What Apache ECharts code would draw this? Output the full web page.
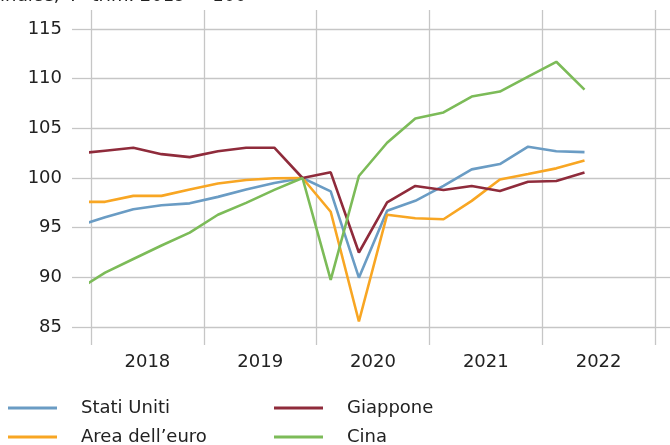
<!DOCTYPE html>
<html>
<head>
<meta charset="utf-8">
<script src="https://cdn.jsdelivr.net/npm/echarts@6/dist/echarts.min.js"></script>
<style>
  html, body { margin: 0; padding: 0; background: #fff; }
  #chart { width: 670px; height: 445px; }
</style>
</head>
<body>
<div id="chart"></div>
<script>
// trimestri (il primo è tagliato dal bordo sinistro del grafico)
var quarters = ['2017T4',
    '2018T1', '2018T2', '2018T3', '2018T4',
    '2019T1', '2019T2', '2019T3', '2019T4',
    '2020T1', '2020T2', '2020T3', '2020T4',
    '2021T1', '2021T2', '2021T3', '2021T4',
    '2022T1', '2022T2'];
var years = ['2018', '2019', '2020', '2021', '2022'];
var yTicks = [85, 90, 95, 100, 105, 110, 115];

var statiUniti = [95.15, 96.05, 96.85, 97.25, 97.45, 98.1, 98.85, 99.5, 100,
    98.65, 89.97, 96.7, 97.7, 99.2, 100.87, 101.4, 103.15, 102.7, 102.6];
var giappone = [102.45, 102.75, 103.05, 102.4, 102.1, 102.7, 103.05, 103.05, 100,
    100.57, 92.5, 97.55, 99.2, 98.8, 99.2, 98.7, 99.63, 99.7, 100.55];
var areaEuro = [97.6, 97.6, 98.2, 98.2, 98.85, 99.45, 99.8, 99.97, 100,
    96.6, 85.55, 96.3, 95.95, 95.85, 97.7, 99.85, 100.4, 100.97, 101.75];
var cina = [88.7, 90.47, 91.85, 93.2, 94.5, 96.3, 97.5, 98.8, 100,
    89.74, 100.2, 103.55, 106.0, 106.6, 108.2, 108.7, 110.2, 111.7, 108.9];

var FONT = 'DejaVu Sans';
var GRIDC = '#c6c6c6';

// posizione del trimestre: centro del trimestre sull'asse degli anni
function qx(q) {
    var y = parseInt(q.slice(0, 4), 10);
    var t = parseInt(q.slice(5), 10);
    return y + (t - 0.5) / 4;
}
function pairs(arr) {
    return arr.map(function (v, i) { return [qx(quarters[i]), v]; });
}

var myChart = echarts.init(document.getElementById('chart'), null, { renderer: 'canvas' });

function lineSeries(name, data, color) {
    return {
        name: name,
        type: 'line',
        xAxisIndex: 0,
        yAxisIndex: 0,
        data: pairs(data),
        showSymbol: false,
        symbol: 'none',
        clip: true,
        lineStyle: { color: color, width: 2.6 },
        itemStyle: { color: color },
        emphasis: { disabled: true }
    };
}

function legendBox(names, left) {
    return {
        data: names,
        orient: 'vertical', left: left, top: 398, height: 60, padding: 0,
        icon: 'rect', itemWidth: 49, itemHeight: 3, itemGap: 9,
        selectedMode: false,
        textStyle: { fontFamily: FONT, fontSize: 18, color: '#222', lineHeight: 20, padding: [0, 0, 0, 19] }
    };
}

var option = {
    animation: false,
    backgroundColor: '#fff',
    textStyle: { fontFamily: FONT },
    title: {
        text: 'indice, 4° trim. 2019 = 100',
        left: 0,
        top: -18,
        padding: [5, 5, 5, 0],
        textStyle: { fontFamily: FONT, fontSize: 18, fontWeight: 'normal', color: '#222' }
    },
    grid: { left: 91, right: 15, top: 29, bottom: 118, containLabel: false },
    xAxis: [
        {
            type: 'value', min: 2018, max: 2023, interval: 1, position: 'bottom',
            axisLine: { show: false },
            axisTick: { show: true, length: 18, lineStyle: { color: GRIDC, width: 1.3 } },
            axisLabel: { show: false },
            splitLine: { show: true, lineStyle: { color: GRIDC, width: 1.3 } }
        },
        {
            type: 'value', min: 2018, max: 2023, interval: 1, position: 'top',
            axisLine: { show: false },
            axisTick: { show: true, length: 19, lineStyle: { color: GRIDC, width: 1.3 } },
            axisLabel: { show: false },
            splitLine: { show: false }
        },
        {
            type: 'category', data: years, position: 'bottom', boundaryGap: true,
            axisLine: { show: false },
            axisTick: { show: false },
            splitLine: { show: false },
            axisLabel: { margin: 26, fontFamily: FONT, fontSize: 18, color: '#222' }
        }
    ],
    yAxis: [
        {
            type: 'value', min: yTicks[0], max: yTicks[yTicks.length - 1], interval: 5,
            axisLine: { show: false },
            axisTick: { show: true, length: 19, lineStyle: { color: GRIDC, width: 1.3 } },
            axisLabel: { margin: 29, fontFamily: FONT, fontSize: 18, color: '#222' },
            splitLine: { show: true, lineStyle: { color: GRIDC, width: 1.3 } }
        },
        {
            type: 'value', min: yTicks[0], max: yTicks[yTicks.length - 1], interval: 5,
            position: 'right',
            axisLine: { show: false },
            axisTick: { show: true, length: 15, lineStyle: { color: GRIDC, width: 1.3 } },
            axisLabel: { show: false },
            splitLine: { show: false }
        }
    ],
    legend: [
        legendBox(['Stati Uniti', "Area dell\u2019euro"], 8),
        legendBox(['Giappone', 'Cina'], 274)
    ],
    series: [
        lineSeries('Stati Uniti', statiUniti, '#6a9cc4'),
        lineSeries("Area dell\u2019euro", areaEuro, '#f8a623'),
        lineSeries('Giappone', giappone, '#8f2b3b'),
        lineSeries('Cina', cina, '#7cbb58')
    ]
};
myChart.setOption(option);
</script>
</body>
</html>
